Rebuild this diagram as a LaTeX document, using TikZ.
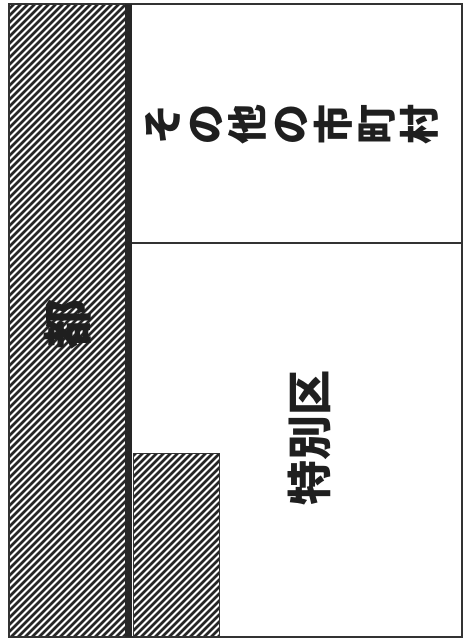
\documentclass[tikz,border=0pt]{standalone}
\usepackage{fontspec}
\newfontfamily\cjk{Noto Sans CJK JP}
\begin{document}
\begin{tikzpicture}[x=1pt,y=-1pt,
  hatch/.style={line width=2.7pt, draw=black!85},
  frame/.style={draw=black!80, line width=1.6pt},
  lab/.style={text=black!88, inner sep=0pt, rotate=90, align=center}]
\useasboundingbox (0,0) rectangle (468,640);
% big hatched column
\begin{scope}
  \clip (9,4) rectangle (125,637);
  \foreach \k in {-650,-643,...,140} \draw[hatch] (\k,640) -- (\k+640,0);
\end{scope}
% small hatched block
\begin{scope}
  \clip (133,453) rectangle (219,637);
  \foreach \k in {-520,-513,...,230} \draw[hatch] (\k,640) -- (\k+640,0);
\end{scope}
\draw[line width=1pt, draw=black!80] (133,453) rectangle (219,637);
% frame, divider, thick bar
\draw[frame] (9,4) rectangle (462,637);
\draw[line width=1.3pt, draw=black!80] (132,243) -- (462,243);
\fill[black!85] (125,4) rectangle (132,637);
% labels
\node[lab, font=\cjk\bfseries\fontsize{40}{42.8}\selectfont] (others) at (291.5,124) {そ\\の\\他\\の\\市\\町\\村};
\node[lab, font=\cjk\bfseries\fontsize{45}{48}\selectfont] (ward) at (309,438) {特別区};
\node[lab, font=\cjk\bfseries\fontsize{50}{54}\selectfont] (to) at (68,324) {都};
\end{tikzpicture}
\end{document}
